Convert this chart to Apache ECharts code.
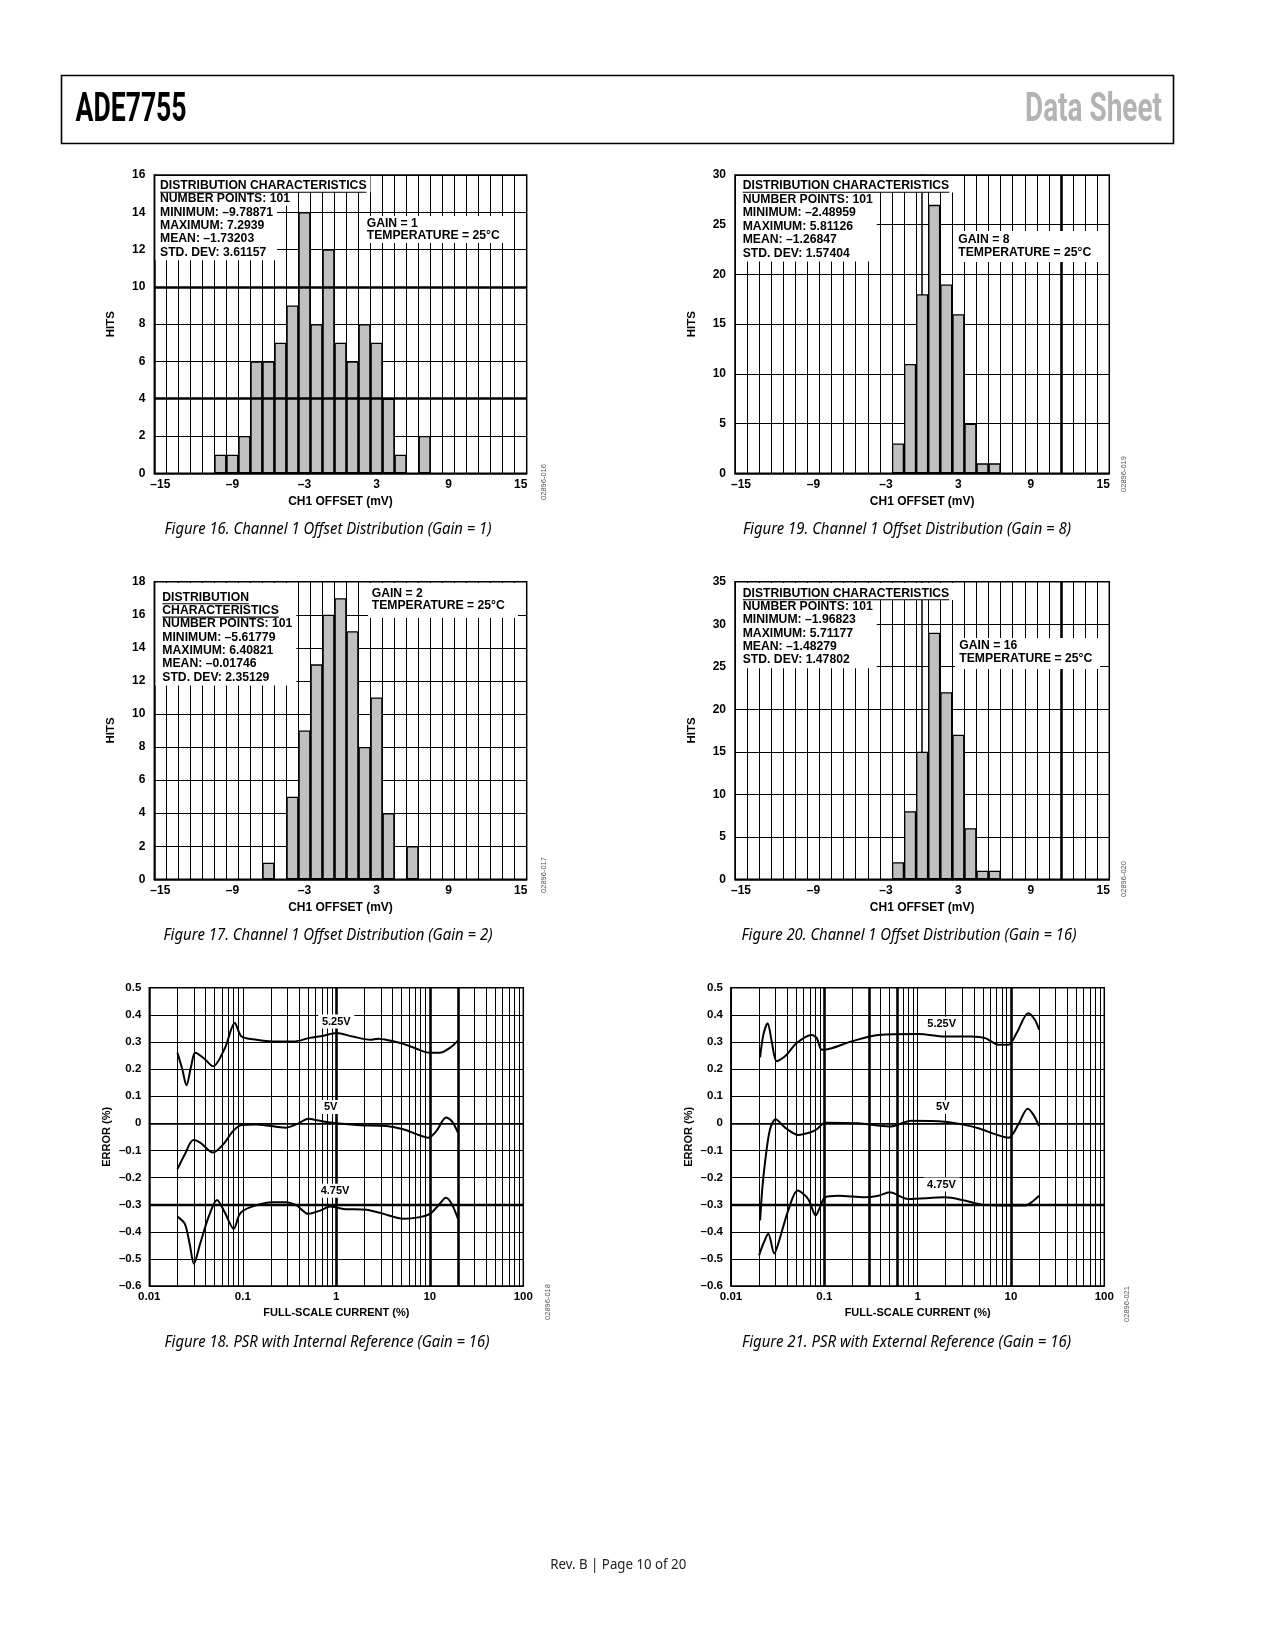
<!DOCTYPE html>
<html><head><meta charset="utf-8">
<script src="https://cdn.jsdelivr.net/npm/echarts@6/dist/echarts.min.js"></script>
<style>html,body{margin:0;padding:0;background:#fff}#c{width:1275px;height:1650px}</style>
</head><body><div id="c"></div>
<script>
// ---------------- DATA ----------------
const histCategories = [-15,-14,-13,-12,-11,-10,-9,-8,-7,-6,-5,-4,-3,-2,-1,0,1,2,3,4,5,6,7,8,9,10,11,12,13,14,15];

const g1Bins = [-10,-9,-8,-7,-6,-5,-4,-3,-2,-1,0,1,2,3,4,5,6,7];
const g1Hits = [1,1,2,6,6,7,9,14,8,12,7,6,8,7,4,1,0,2];

const g8Bins = [-2,-1,0,1,2,3,4,5,6];
const g8Hits = [3,11,18,27,19,16,5,1,1];

const g2Bins = [-6,-5,-4,-3,-2,-1,0,1,2,3,4,5,6];
const g2Hits = [1,0,5,9,13,16,17,15,8,11,4,0,2];

const g16Bins = [-2,-1,0,1,2,3,4,5,6];
const g16Hits = [2,8,15,29,22,17,6,1,1];

// PSR internal reference (Fig 18): [full-scale current %, error %]
const int525 = [[0.02,0.26],[0.0225,0.2],[0.025,0.14],[0.028,0.21],[0.031,0.26],[0.038,0.241],[0.048,0.21],[0.0645,0.278],[0.082,0.37],[0.097,0.32],[0.14,0.308],[0.21,0.302],[0.35,0.302],[0.52,0.315],[0.73,0.323],[1.0,0.333],[1.5,0.32],[2.3,0.308],[2.8,0.312],[3.75,0.305],[5.2,0.293],[7.2,0.275],[10,0.26],[12.8,0.26],[16.4,0.278],[20,0.305]];
const int500 = [[0.02,-0.169],[0.024,-0.114],[0.0296,-0.062],[0.035,-0.071],[0.048,-0.108],[0.062,-0.077],[0.079,-0.028],[0.097,-0.006],[0.14,-0.004],[0.29,-0.016],[0.39,-0.001],[0.5,0.017],[0.67,0.009],[1.0,0.0],[1.8,-0.007],[3.45,-0.01],[5.2,-0.022],[7.2,-0.04],[9.6,-0.053],[11.8,-0.028],[14.9,0.021],[17.1,0.009],[20,-0.034]];
const int475 = [[0.02,-0.344],[0.024,-0.371],[0.027,-0.444],[0.03,-0.518],[0.035,-0.444],[0.043,-0.346],[0.053,-0.283],[0.064,-0.328],[0.08,-0.389],[0.093,-0.334],[0.119,-0.31],[0.21,-0.291],[0.29,-0.291],[0.38,-0.304],[0.5,-0.334],[0.67,-0.322],[0.86,-0.307],[1.19,-0.316],[2.1,-0.319],[3.2,-0.334],[5.2,-0.352],[7.85,-0.346],[10,-0.334],[12.3,-0.304],[14.9,-0.275],[17.1,-0.297],[20,-0.352]];

// PSR external reference (Fig 21)
const ext525 = [[0.0205,0.243],[0.0222,0.326],[0.0247,0.369],[0.0273,0.302],[0.0309,0.229],[0.038,0.247],[0.0506,0.296],[0.073,0.326],[0.083,0.314],[0.094,0.271],[0.12,0.277],[0.196,0.302],[0.38,0.326],[1.02,0.329],[1.96,0.32],[3.8,0.32],[5.3,0.314],[7.3,0.29],[9.4,0.29],[11.5,0.333],[15.3,0.406],[18.1,0.381],[20,0.345]];
const ext500 = [[0.0205,-0.358],[0.0217,-0.236],[0.0235,-0.126],[0.0262,-0.022],[0.0301,0.015],[0.038,-0.016],[0.0526,-0.043],[0.07,-0.034],[0.083,-0.022],[0.1016,0.002],[0.23,0.0],[0.5,-0.012],[0.86,0.009],[1.96,0.006],[2.96,-0.004],[4.47,-0.018],[6.74,-0.04],[9.4,-0.053],[12,-0.004],[15.1,0.054],[17.3,0.033],[20,-0.01]];
const ext475 = [[0.02,-0.487],[0.0222,-0.444],[0.0251,-0.407],[0.0291,-0.48],[0.0321,-0.444],[0.041,-0.322],[0.0518,-0.248],[0.067,-0.279],[0.081,-0.34],[0.09,-0.309],[0.1016,-0.273],[0.141,-0.267],[0.27,-0.273],[0.38,-0.267],[0.5,-0.254],[0.79,-0.279],[1.96,-0.273],[3.2,-0.285],[4.85,-0.3],[9.4,-0.303],[14.1,-0.303],[16.6,-0.291],[20,-0.267]];

const psrDecades = [0.01,0.1,1,10];

// ---------------- HELPERS ----------------
const F = 'Liberation Sans';
const histTxt = {color:'#000', fontFamily:F, fontWeight:'bold', fontSize:12};
const psrTxt = {color:'#000', fontFamily:F, fontWeight:'bold', fontSize:11.5};
const psrName = {color:'#000', fontFamily:F, fontWeight:'bold', fontSize:11};
const dash = v => String(v).replace('-', '\u2013');
const mctx = document.createElement('canvas').getContext('2d');
function measure(text, font){ mctx.font = font; return mctx.measureText(text).width; }

const grids = [
  {left:154.3, top:175,   width:372.4, height:298.3}, // Fig16
  {left:735,   top:175,   width:374.3, height:298.3}, // Fig19
  {left:154.3, top:581.7, width:372.4, height:297.6}, // Fig17
  {left:735,   top:581.7, width:374.3, height:297.6}, // Fig20
  {left:149.3, top:987.7, width:374,   height:298.3}, // Fig18
  {left:731,   top:987.7, width:373.3, height:298.3}  // Fig21
].map(g => Object.assign({show:true, borderColor:'#000', borderWidth:1.5, containLabel:false}, g));

const xAxes = [], yAxes = [], series = [];
const markerLine = {silent:true, symbol:['none','none'], label:{show:false}, animation:false};

function histAxes(i, ymax, yint){
  xAxes[i] = {type:'category', gridIndex:i, data:histCategories.map(String), boundaryGap:true,
    axisLine:{show:true, lineStyle:{color:'#000', width:1.5}}, axisTick:{show:false},
    axisLabel:Object.assign({}, histTxt, {interval:5, margin:5, formatter:v => dash(v)}),
    splitLine:{show:true, interval:0, lineStyle:{color:'#000', width:1}},
    name:'CH1 OFFSET (mV)', nameLocation:'middle', nameGap:22, nameTextStyle:Object.assign({}, histTxt)};
  yAxes[i] = {type:'value', gridIndex:i, min:0, max:ymax, interval:yint,
    axisLine:{show:true, lineStyle:{color:'#000', width:1.5}}, axisTick:{show:false},
    axisLabel:Object.assign({}, histTxt, {margin:9}),
    splitLine:{show:true, lineStyle:{color:'#000', width:1}},
    name:'HITS', nameLocation:'middle', nameGap:37, nameRotate:90, nameTextStyle:Object.assign({}, histTxt, {fontSize:11.5})};
}
function psrAxes(i){
  xAxes[i] = {type:'log', logBase:10, gridIndex:i, min:0.01, max:100,
    axisLine:{show:true, lineStyle:{color:'#000', width:1.5}}, axisTick:{show:false},
    axisLabel:Object.assign({}, psrTxt, {margin:5, formatter:v => String(+Number(v).toPrecision(2))}),
    splitLine:{show:true, lineStyle:{color:'#000', width:1}},
    name:'FULL-SCALE CURRENT (%)', nameLocation:'middle', nameGap:21, nameTextStyle:Object.assign({}, psrName)};
  yAxes[i] = {type:'value', gridIndex:i, min:-0.6, max:0.5, interval:0.1,
    axisLine:{show:true, lineStyle:{color:'#000', width:1.5}}, axisTick:{show:false},
    axisLabel:Object.assign({}, psrTxt, {margin:8, formatter:v => Math.abs(v)<1e-9 ? '0' : (v<0?'\u2013':'') + Math.abs(v).toFixed(1)}),
    splitLine:{show:true, lineStyle:{color:'#000', width:1}},
    name:'ERROR (%)', nameLocation:'middle', nameGap:37, nameRotate:90, nameTextStyle:Object.assign({}, psrName)};
}
[0,1,2,3].forEach(i => histAxes(i, [16,30,18,35][i], [2,5,2,5][i]));
psrAxes(4); psrAxes(5);

function histSeries(i, bins, hits, thickY, thickX){
  series.push({type:'bar', xAxisIndex:i, yAxisIndex:i, barWidth:'100%', barGap:'0%', z:3, silent:true,
    data: bins.map((b,k)=>[String(b), hits[k]]).filter(d => d[1] > 0),
    itemStyle:{color:'#c0c0c0', borderColor:'#000', borderWidth:1.3}});
  if (thickY.length){
    series.push({type:'line', xAxisIndex:i, yAxisIndex:i, data:[], z:2, silent:true,
      markLine:Object.assign({lineStyle:{color:'#000', width:2.5, type:'solid'}, data:thickY.map(v=>({yAxis:v}))}, markerLine)});
  }
  if (thickX.length){
    // hidden value axis across the bin edges, to place emphasised grid lines on bin boundaries
    xAxes.push({type:'value', gridIndex:i, min:-15.5, max:15.5, show:false, splitLine:{show:false}});
    series.push({type:'line', xAxisIndex:xAxes.length-1, yAxisIndex:i, data:[], z:2, silent:true,
      markLine:Object.assign({lineStyle:{color:'#000', width:2.6, type:'solid'}, data:thickX.map(v=>({xAxis:v}))}, markerLine)});
  }
}
function psrSeries(i, curves, labels, thickX){
  const minor = [];
  psrDecades.forEach(d => { for (let k=2;k<=9;k++) minor.push({xAxis:+(d*k).toPrecision(3)}); });
  const thick = thickX.map(v => ({xAxis:v, lineStyle:{width:2.6}})).concat([{yAxis:-0.3, lineStyle:{width:2.4}}]);
  series.push({type:'line', xAxisIndex:i, yAxisIndex:i, data:[], z:1, silent:true,
    markLine:Object.assign({lineStyle:{color:'#000', width:1, type:'solid'}, data:minor.concat(thick)}, markerLine)});
  curves.forEach((c, k) => {
    series.push({type:'line', xAxisIndex:i, yAxisIndex:i, data:c, smooth:0.3, symbol:'none', z:4, silent:true,
      lineStyle:{color:'#000', width:2},
      markPoint:{silent:true, animation:false, symbol:'rect', itemStyle:{color:'#fff'},
        label:Object.assign({show:true, position:'inside', formatter:'{b}'}, psrTxt, {fontSize:11}),
        data:[{name:labels[k].name, coord:labels[k].coord, symbolSize:[labels[k].name.length>2?36:20, 14]}]}});
  });
}

histSeries(0, g1Bins, g1Hits, [4,10], []);
histSeries(1, g8Bins, g8Hits, [], [11.5]);
histSeries(2, g2Bins, g2Hits, [], []);
histSeries(3, g16Bins, g16Hits, [], [11.5]);
psrSeries(4, [int525, int500, int475],
  [{name:'5.25V', coord:[1.0,0.375]},{name:'5V', coord:[0.87,0.06]},{name:'4.75V', coord:[0.97,-0.249]}], [1,10,20]);
psrSeries(5, [ext525, ext500, ext475],
  [{name:'5.25V', coord:[1.81,0.367]},{name:'5V', coord:[1.86,0.06]},{name:'4.75V', coord:[1.8,-0.226]}], [0.1,0.3,0.6,10]);

// ---------------- GRAPHICS (text, page furniture) ----------------
const gr = [];
function txt(x, y, text, font, o){
  o = o || {};
  gr.push({type:'text', x, y, z:100, rotation:o.rot||0, scaleX:o.sx||1, silent:true,
    style:{text, font, fill:o.fill||'#000', textAlign:o.align||'left', textVerticalAlign:'middle',
      align:o.align||'left', verticalAlign:'middle'}});
}
function rect(x1, y1, x2, y2){
  gr.push({type:'rect', z:99, silent:true, shape:{x:x1, y:y1, width:x2-x1, height:y2-y1}, style:{fill:'#fff'}});
}
function uline(x1, x2, y){
  gr.push({type:'line', z:101, silent:true, shape:{x1, y1:y, x2, y2:y}, style:{stroke:'#000', lineWidth:1.1}});
}
const boxFont = 'bold 12.2px "Liberation Sans", Arial, sans-serif';
// groups: arrays of line indices sharing one white background block
function box(plotLeft, yTop, x, y0, dy, lines, underlineIdx, groups){
  groups.forEach((g, gi) => {
    const w = Math.max.apply(null, g.map(k => measure(lines[k], boxFont)));
    const y1 = gi === 0 ? yTop : y0 + g[0]*dy - dy/2;
    const y2 = y0 + g[g.length-1]*dy + dy/2 + (gi === groups.length-1 ? 1.5 : 0);
    rect(plotLeft, y1, x + w + 4, y2);
  });
  lines.forEach((t, k) => {
    txt(x, y0 + k*dy, t, boxFont);
    if (underlineIdx.indexOf(k) >= 0) uline(x, x + measure(t, boxFont), y0 + k*dy + 6.5);
  });
}
function fitText(cx, y, text, font, width, o){
  const sx = width / measure(text, font);
  txt(cx, y, text, font, Object.assign({sx}, o));
}

// header
gr.push({type:'rect', z:100, silent:true, shape:{x:61.5, y:75.5, width:1112, height:68}, style:{fill:'none', stroke:'#000', lineWidth:1.6}});
fitText(75.6, 110.8, 'ADE7755', 'bold 40px Roboto, "Liberation Sans", sans-serif', 111, {});
fitText(1162, 110.8, 'Data Sheet', 'bold 40px Roboto, "Liberation Sans", sans-serif', 137, {align:'right', fill:'#b3b3b3'});

// Fig16 boxes
box(155.5, 176, 160, 185.7, 13.3, ['DISTRIBUTION CHARACTERISTICS','NUMBER POINTS: 101','MINIMUM: \u20139.78871','MAXIMUM: 7.2939','MEAN: \u20131.73203','STD. DEV: 3.61157'], [0], [[0],[1],[2,3,4,5]]);
rect(363, 216, 506, 243);
box(363, 216, 366.7, 224, 11.7, ['GAIN = 1','TEMPERATURE = 25\u00B0C'], [], []);

// Fig19 boxes
box(736, 176, 742.7, 185.7, 13.5, ['DISTRIBUTION CHARACTERISTICS','NUMBER POINTS: 101','MINIMUM: \u20132.48959','MAXIMUM: 5.81126','MEAN: \u20131.26847','STD. DEV: 1.57404'], [0], [[0],[1,2,3,4,5]]);
rect(955, 231, 1100, 262);
box(955, 231, 958.3, 240, 12.3, ['GAIN = 8','TEMPERATURE = 25\u00B0C'], [], []);

// Fig17 boxes
box(155.5, 583, 162.3, 597.3, 13.33, ['DISTRIBUTION','CHARACTERISTICS','NUMBER POINTS: 101','MINIMUM: \u20135.61779','MAXIMUM: 6.40821','MEAN: \u20130.01746','STD. DEV: 2.35129'], [0,1], [[0,1,2,3,4,5,6]]);
rect(368, 583, 518, 618);
box(368, 583, 371.7, 593.3, 12, ['GAIN = 2','TEMPERATURE = 25\u00B0C'], [], []);

// Fig20 boxes
box(736, 583, 742.7, 593.3, 13.35, ['DISTRIBUTION CHARACTERISTICS','NUMBER POINTS: 101','MINIMUM: \u20131.96823','MAXIMUM: 5.71177','MEAN: \u20131.48279','STD. DEV: 1.47802'], [0], [[0],[1,2,3,4,5]]);
rect(955, 638, 1100, 669);
box(955, 638, 959.3, 646, 12.3, ['GAIN = 16','TEMPERATURE = 25\u00B0C'], [], []);

// captions
const capFont = 'italic 16px "Noto Sans", "Open Sans", sans-serif';
fitText(328, 529, 'Figure 16. Channel 1 Offset Distribution (Gain = 1)', capFont, 327, {align:'center'});
fitText(907, 529, 'Figure 19. Channel 1 Offset Distribution (Gain = 8)', capFont, 328, {align:'center'});
fitText(328, 935, 'Figure 17. Channel 1 Offset Distribution (Gain = 2)', capFont, 329, {align:'center'});
fitText(909, 935, 'Figure 20. Channel 1 Offset Distribution (Gain = 16)', capFont, 335, {align:'center'});
fitText(327, 1342.5, 'Figure 18. PSR with Internal Reference (Gain = 16)', capFont, 325, {align:'center'});
fitText(906.5, 1342.5, 'Figure 21. PSR with External Reference (Gain = 16)', capFont, 329, {align:'center'});

// side codes
const codeFont = '7.5px "Liberation Sans", Arial, sans-serif';
[['02896-016',544,482],['02896-019',1124,474],['02896-017',544,875],['02896-020',1124,879],['02896-018',548,1302],['02896-021',1127,1304]]
  .forEach(c => txt(c[1], c[2], c[0], codeFont, {align:'center', rot:Math.PI/2, fill:'#555'}));

// footer
fitText(618.3, 1564.6, 'Rev. B | Page 10 of 20', '14px "Noto Sans", "Open Sans", sans-serif', 136, {align:'center', fill:'#222'});

// ---------------- CHART ----------------
const chart = echarts.init(document.getElementById('c'), null, {width:1275, height:1650, renderer:'canvas'});
chart.setOption({
  animation:false,
  backgroundColor:'#fff',
  grid:grids, xAxis:xAxes, yAxis:yAxes, series:series,
  graphic:{elements:gr}
});
</script>
</body></html>
